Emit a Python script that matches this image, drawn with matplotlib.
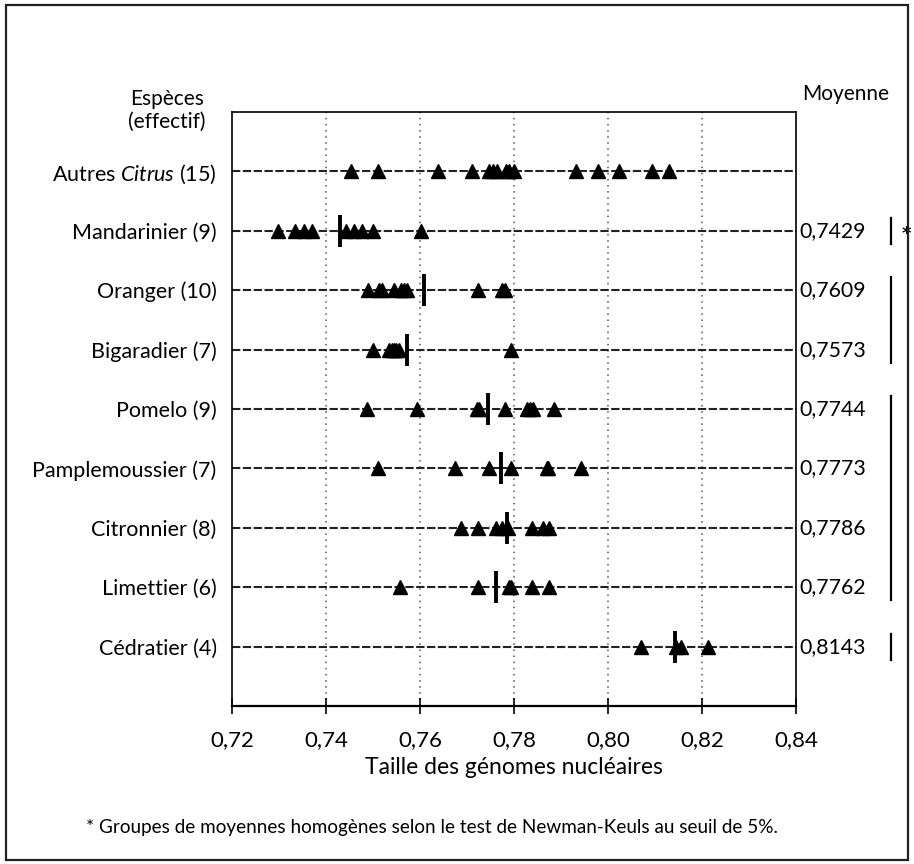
import numpy as np
import matplotlib
matplotlib.use('Agg')
import matplotlib.pyplot as plt
from matplotlib.patches import Rectangle
import matplotlib.transforms as mtransforms

plt.rcParams['font.family'] = ['Lato', 'DejaVu Sans']
plt.rcParams['mathtext.fontset'] = 'custom'
plt.rcParams['mathtext.rm'] = 'Lato'
plt.rcParams['mathtext.it'] = 'Lato:italic'

# especes (effectif), du haut vers le bas
especes = ['Autres $\\mathit{Citrus}$ (15)', 'Mandarinier (9)', 'Oranger (10)',
           'Bigaradier (7)', 'Pomelo (9)', 'Pamplemoussier (7)',
           'Citronnier (8)', 'Limettier (6)', 'Cédratier (4)']

# tailles
autres = [0.7454, 0.7511, 0.7639, 0.7711, 0.7746, 0.7755, 0.7764, 0.7782,
          0.7790, 0.7801, 0.7932, 0.7978, 0.8023, 0.8094, 0.8130]
mandarinier = [0.7298, 0.7333, 0.7353, 0.7371, 0.7442, 0.7460, 0.7477, 0.7499, 0.7602]
oranger = [0.7490, 0.7512, 0.7520, 0.7545, 0.7559, 0.7565, 0.7573, 0.7723, 0.7775, 0.7780]
bigaradier = [0.7499, 0.7535, 0.7541, 0.7545, 0.7549, 0.7556, 0.7794]
pomelo = [0.7488, 0.7593, 0.7721, 0.7725, 0.7780, 0.7828, 0.7835, 0.7840, 0.7886]
pamplemoussier = [0.7511, 0.7675, 0.7746, 0.7794, 0.7870, 0.7873, 0.7943]
citronnier = [0.7687, 0.7723, 0.7762, 0.7774, 0.7787, 0.7838, 0.7861, 0.7874]
limettier = [0.7557, 0.7723, 0.7790, 0.7794, 0.7838, 0.7874]
cedratier = [0.8070, 0.8145, 0.8155, 0.8213]
valeurs = [autres, mandarinier, oranger, bigaradier, pomelo, pamplemoussier,
           citronnier, limettier, cedratier]

# moyennes (None = pas de moyenne affichee)
moyennes = [None, 0.7429, 0.7609, 0.7573, 0.7744, 0.7773, 0.7786, 0.7762, 0.8143]
# groupes homogenes (index premiere et derniere espece)
groupes = [(1, 1), (2, 3), (4, 7), (8, 8)]

xticks = [0.72, 0.74, 0.76, 0.78, 0.80, 0.82, 0.84]

fig = plt.figure(figsize=(9.14, 8.64), dpi=100)
ax = fig.add_axes([232/914, 1-706/864, 564/914, 594/864])

n = len(especes)
ypos = [n - i for i in range(n)]   # 9 .. 1

for x in xticks[1:-1]:
    ax.axvline(x, color='#555555', ls=(0, (1, 3)), lw=1.1, zorder=1)

for i in range(n):
    y = ypos[i]
    ax.axhline(y, color='#222222', ls=(0, (4, 1.2)), lw=1.5, zorder=2)
    ax.plot(valeurs[i], [y]*len(valeurs[i]), ls='none', marker='^',
            ms=9.5, color='black', zorder=3)
    if moyennes[i] is not None:
        ax.vlines(moyennes[i], y-0.27, y+0.27, color='black', lw=2.8, zorder=4)

ax.set_xlim(0.72, 0.84)
ax.set_ylim(0, 10)
ax.set_xticks(xticks)
ax.set_xticklabels([('%.2f' % v).replace('.', ',') for v in xticks])
ax.set_yticks(ypos)
ax.set_yticklabels(especes)
ax.tick_params(axis='y', length=0, pad=11, labelsize=15.5)
ax.tick_params(axis='x', direction='inout', length=12, width=1.2, pad=11, labelsize=16)
for s in ax.spines.values():
    s.set_linewidth(1.2)
ax.spines['bottom'].set_linewidth(1.6)
ax.set_xlabel('Taille des génomes nucléaires', fontsize=16.5, labelpad=5)

trans = mtransforms.blended_transform_factory(ax.transAxes, ax.transData)
ax.text(-0.115, 10.22, 'Espèces', ha='center', va='center', fontsize=15,
        transform=trans, clip_on=False)
ax.text(-0.115, 9.83, '(effectif)', ha='center', va='center', fontsize=15,
        transform=trans, clip_on=False)
ax.text(1.088, 10.3, 'Moyenne', ha='center', va='center', fontsize=15,
        transform=trans, clip_on=False)

for i in range(n):
    if moyennes[i] is not None:
        ax.text(1.065, ypos[i], ('%.4f' % moyennes[i]).replace('.', ','),
                ha='center', va='center', fontsize=15.3, transform=trans, clip_on=False)

for a, b in groupes:
    ax.plot([1.168, 1.168], [ypos[a] + 0.22, ypos[b] - 0.22], color='black',
            lw=1.6, transform=trans, clip_on=False)
ax.text(1.195, ypos[1] - 0.05, '*', ha='center', va='center', fontsize=13,
        family='DejaVu Sans', fontweight='bold', transform=trans, clip_on=False)

fig.text(432/914, 1-827/864,
         '* Groupes de moyennes homogènes selon le test de Newman-Keuls au seuil de 5%.',
         ha='center', va='center', fontsize=13.6)

fig.patches.append(Rectangle((6/914, 1-860/864), 902/914, 855/864,
                             transform=fig.transFigure, fill=False,
                             edgecolor='#222222', lw=1.6))

fig.savefig('out.png', dpi=100)
